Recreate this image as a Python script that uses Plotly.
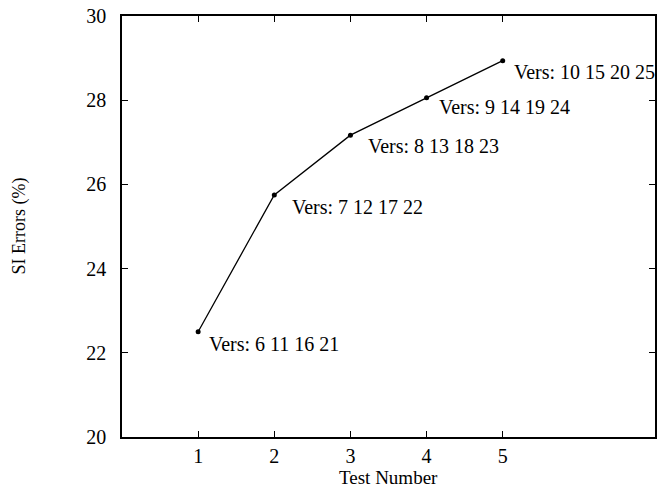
import plotly.graph_objects as go

test_number = [1, 2, 3, 4, 5]
si_errors = [22.5, 25.75, 27.17, 28.06, 28.94]
version_labels = ["Vers: 6 11 16 21", "Vers: 7 12 17 22", "Vers: 8 13 18 23",
                  "Vers: 9 14 19 24", "Vers: 10 15 20 25"]
label_xshift = [9, 16, 16, 10, 9]
label_yshift = [-12, -12, -11, -9, -11]

FONT = "Liberation Serif"

fig = go.Figure()
fig.add_trace(go.Scatter(
    x=test_number, y=si_errors, mode="lines+markers",
    line=dict(color="black", width=1.3),
    marker=dict(symbol="circle", size=5, color="black"),
    showlegend=False, cliponaxis=False,
))

for x, y, t, dx, dy in zip(test_number, si_errors, version_labels, label_xshift, label_yshift):
    fig.add_annotation(x=x, y=y, text=t, showarrow=False, xanchor="left", yanchor="middle",
                       xshift=dx, yshift=dy, font=dict(family=FONT, size=20, color="black"))

# axis titles
fig.add_annotation(xref="paper", yref="paper", x=0.5, y=0, yshift=-40, text="Test Number",
                   showarrow=False, xanchor="center", yanchor="middle", borderpad=0,
                   font=dict(family=FONT, size=19, color="black"))
fig.add_annotation(xref="paper", yref="paper", x=0, y=0.5, xshift=-103, text="SI Errors (%)",
                   showarrow=False, xanchor="center", yanchor="middle", textangle=-90,
                   font=dict(family=FONT, size=18, color="black"))

fig.update_layout(
    width=661, height=489,
    margin=dict(l=122, r=6, t=16, b=52, autoexpand=False),
    paper_bgcolor="white", plot_bgcolor="white",
    font=dict(family=FONT, size=20, color="black"),
)
fig.update_xaxes(
    range=[0, 7], tickvals=[1, 2, 3, 4, 5], ticks="inside", ticklen=6, tickwidth=1.2,
    tickcolor="black", showline=True, linecolor="black", linewidth=1.5, mirror="ticks",
    showgrid=False, zeroline=False, automargin=False,
    ticklabelstandoff=0,
)
fig.update_yaxes(
    range=[20, 30], tickvals=[20, 22, 24, 26, 28, 30], ticks="inside", ticklen=6, tickwidth=1.2,
    tickcolor="black", showline=True, linecolor="black", linewidth=1.5, mirror="ticks",
    showgrid=False, zeroline=False, automargin=False,
    ticklabelstandoff=10,
)

fig.write_html("out.html", config={"displayModeBar": False},
               post_script="document.body.style.margin='0';document.body.style.overflow='hidden';")
